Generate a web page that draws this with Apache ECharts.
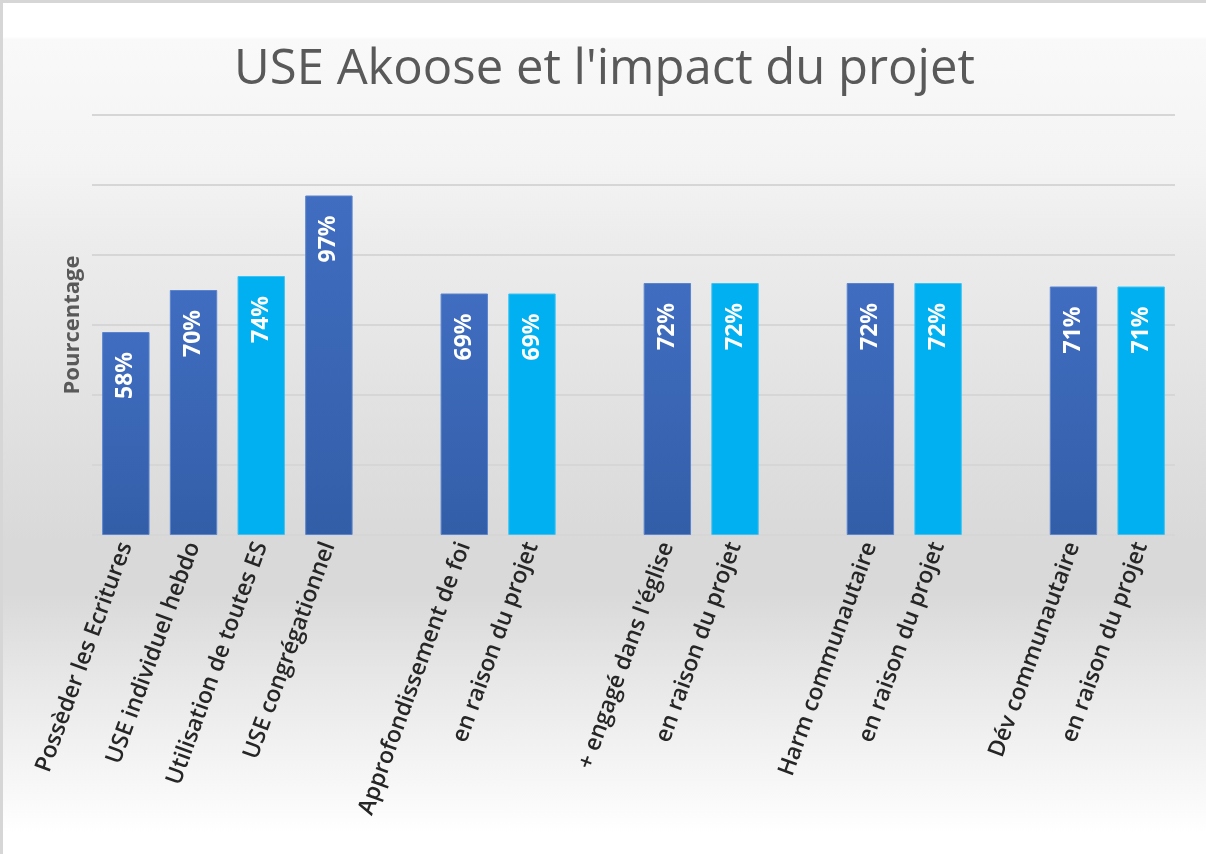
<!DOCTYPE html>
<html>
<head>
<meta charset="utf-8">
<script src="https://cdn.jsdelivr.net/npm/echarts@6/dist/echarts.min.js"></script>
<style>
  html, body { margin: 0; padding: 0; background: #fff; }
  #chart {
    width: 1206px; height: 854px; box-sizing: border-box;
    border-top: 3px solid #d6d6d6; border-left: 3px solid #d6d6d6;
    background: linear-gradient(to bottom, #ffffff 0px, #ffffff 34px, #f9f9f9 36px, #f4f4f4 160px,
      #ececec 240px, #e3e3e3 380px, #d9d9d9 540px, #d9d9d9 590px, #e8e8e8 680px,
      #f4f4f4 760px, #fafafa 800px, #ffffff 830px);
  }
</style>
</head>
<body>
<div id="chart"></div>
<script>
// catégories (les '' sont les espaces entre les groupes)
var categories = [
  'Possèder les Ecritures', 'USE individuel hebdo', 'Utilisation de toutes ES', 'USE congrégationnel', '',
  'Approfondissement de foi', 'en raison du projet', '',
  "+ engagé dans l'église", 'en raison du projet', '',
  'Harm communautaire', 'en raison du projet', '',
  'Dév communautaire', 'en raison du projet'
];
// barres bleu foncé
var darkValues = [58, 70, null, 97, null, 69, null, null, 72, null, null, 72, null, null, 71, null];
// barres bleu clair
var lightValues = [null, null, 74, null, null, null, 69, null, null, 72, null, null, 72, null, null, 71];

var chart = echarts.init(document.getElementById('chart'), null, { renderer: 'canvas' });

var labelOpt = {
  show: true,
  position: 'insideTop',
  rotate: 90,
  align: 'right',
  verticalAlign: 'middle',
  distance: 20,
  color: '#ffffff',
  fontFamily: 'Open Sans',
  fontWeight: 'bold',
  fontSize: 23,
  formatter: function (p) { return p.value == null ? '' : p.value + '%'; }
};

chart.setOption({
  backgroundColor: 'transparent',
  title: {
    text: "USE Akoose et l'impact du projet",
    left: 'center',
    top: 38,
    textStyle: { fontFamily: 'Open Sans', fontWeight: 'normal', fontSize: 49, color: '#595959' }
  },
  grid: { left: 89, right: 31, top: 112, bottom: 319 },
  xAxis: {
    type: 'category',
    data: categories,
    axisLine: { show: false },
    axisTick: { show: false },
    axisLabel: {
      interval: 0,
      rotate: 70,
      margin: 8,
      fontFamily: 'Open Sans',
      fontWeight: 600,
      fontSize: 23,
      color: '#262626'
    }
  },
  yAxis: {
    type: 'value',
    min: 0,
    max: 120,
    interval: 20,
    name: 'Pourcentage',
    nameLocation: 'middle',
    nameGap: 8,
    nameTextStyle: { fontFamily: 'Open Sans', fontWeight: 'bold', fontSize: 22, color: '#595959' },
    axisLabel: { show: false },
    axisLine: { show: false },
    axisTick: { show: false },
    splitLine: { lineStyle: { color: '#d6d6d6', width: 2 } }
  },
  series: [
    {
      name: 'foncé',
      type: 'bar',
      stack: 'a',
      barCategoryGap: '30%',
      data: darkValues,
      itemStyle: {
        color: new echarts.graphic.LinearGradient(0, 0, 0, 1, [
          { offset: 0, color: '#416dc1' },
          { offset: 1, color: '#325ea8' }
        ]),
        borderColor: '#5a84cf',
        borderWidth: 1
      },
      label: labelOpt
    },
    {
      name: 'clair',
      type: 'bar',
      stack: 'a',
      barCategoryGap: '30%',
      data: lightValues,
      itemStyle: { color: '#00b0f0', borderColor: '#3cc3f3', borderWidth: 1 },
      label: labelOpt
    }
  ]
});
</script>
</body>
</html>
